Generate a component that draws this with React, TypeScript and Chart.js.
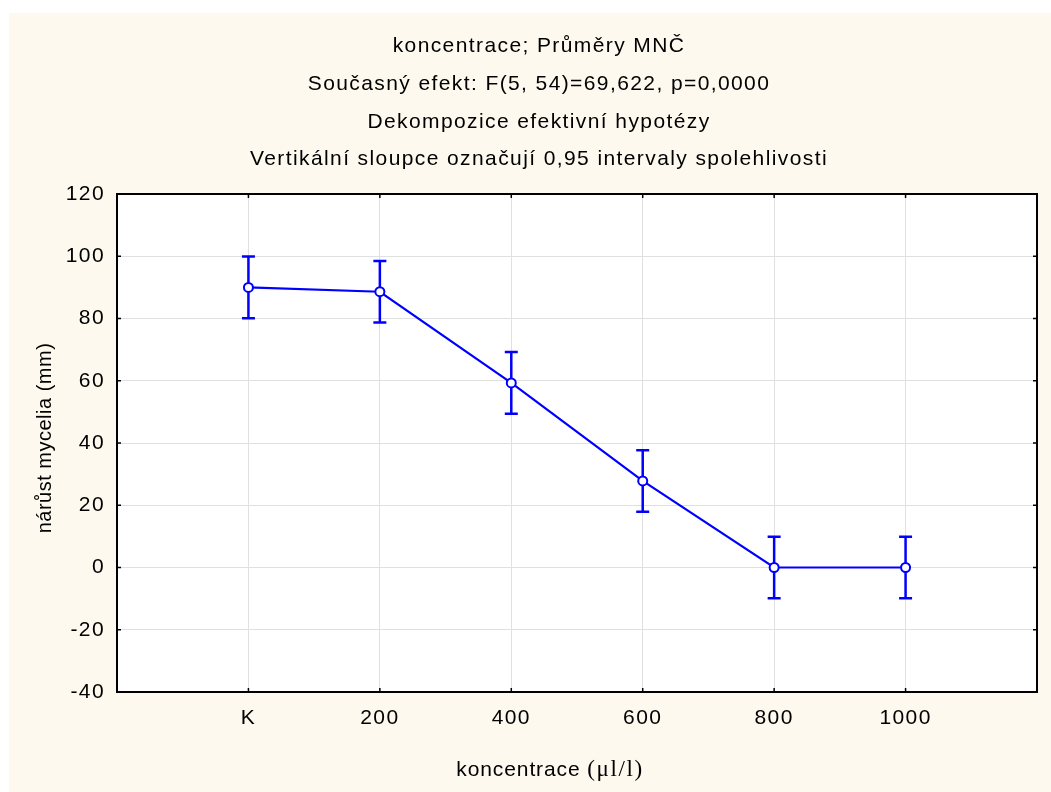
import React, { useEffect, useRef } from 'react';
import { Chart, registerables } from 'chart.js';
Chart.register(...registerables);

const titleLines = [
  'koncentrace; Průměry MNČ',
  'Současný efekt: F(5, 54)=69,622, p=0,0000',
  'Dekompozice efektivní hypotézy',
  'Vertikální sloupce označují 0,95 intervaly spolehlivosti',
];
const categories = ['K', '200', '400', '600', '800', '1000'];
const means = [90.0, 88.6, 59.3, 27.8, 0.0, 0.0];
const ciHalf = [9.9, 9.9, 9.9, 9.9, 9.9, 9.9];
const yMin = -40;
const yMax = 120;
const yStep = 20;
const xTitleSans = 'koncentrace';
const xTitleSerif = '(μl/l)';
const yTitle = 'nárůst mycelia (mm)';

const SANS = 'Arial, "Liberation Sans", sans-serif';
const SERIF = '"Times New Roman", "Liberation Serif", serif';
const CREAM = '#FDF9EF';
const BLUE = '#0000FF';
const LS = '1.4px';
const FS = 21;

const decorPlugin = {
  id: 'decor',
  beforeDraw(chart: any) {
    const { ctx, chartArea: a, width, height } = chart;
    ctx.save();
    ctx.fillStyle = '#ffffff';
    ctx.fillRect(0, 0, width, height);
    ctx.fillStyle = CREAM;
    ctx.fillRect(9, 13, width - 9, height - 13);
    ctx.fillStyle = '#ffffff';
    ctx.fillRect(a.left, a.top, a.right - a.left, a.bottom - a.top);
    ctx.restore();
    (ctx as any).letterSpacing = LS;
  },
  beforeDatasetsDraw(chart: any) {
    const { ctx } = chart;
    const xs = chart.scales.x;
    const ys = chart.scales.y;
    ctx.save();
    ctx.strokeStyle = BLUE;
    ctx.lineWidth = 2.5;
    means.forEach((m, i) => {
      const x = xs.getPixelForValue(i + 1);
      const yt = ys.getPixelForValue(m + ciHalf[i]);
      const yb = ys.getPixelForValue(m - ciHalf[i]);
      ctx.beginPath();
      ctx.moveTo(x, yt);
      ctx.lineTo(x, yb);
      ctx.moveTo(x - 6.5, yt);
      ctx.lineTo(x + 6.5, yt);
      ctx.moveTo(x - 6.5, yb);
      ctx.lineTo(x + 6.5, yb);
      ctx.stroke();
    });
    ctx.restore();
  },
  afterDraw(chart: any) {
    const { ctx, chartArea: a } = chart;
    const xs = chart.scales.x;
    const ys = chart.scales.y;
    ctx.save();
    // inner ticks
    ctx.strokeStyle = '#000';
    ctx.lineWidth = 1.5;
    ctx.beginPath();
    for (let v = yMin; v <= yMax; v += yStep) {
      const y = ys.getPixelForValue(v);
      ctx.moveTo(a.left, y);
      ctx.lineTo(a.left + 4, y);
      ctx.moveTo(a.right, y);
      ctx.lineTo(a.right - 4, y);
    }
    categories.forEach((_, i) => {
      const x = xs.getPixelForValue(i + 1);
      ctx.moveTo(x, a.top);
      ctx.lineTo(x, a.top + 4);
      ctx.moveTo(x, a.bottom);
      ctx.lineTo(x, a.bottom - 4);
    });
    ctx.stroke();
    // frame
    ctx.lineWidth = 2;
    ctx.strokeRect(a.left, a.top, a.right - a.left, a.bottom - a.top);

    // titles
    (ctx as any).letterSpacing = LS;
    ctx.fillStyle = '#000';
    ctx.font = `${FS}px ${SANS}`;
    ctx.textAlign = 'center';
    ctx.textBaseline = 'alphabetic';
    const baselines = [52, 90, 128, 165];
    titleLines.forEach((t, i) => ctx.fillText(t, 539, baselines[i]));

    // x title (mixed fonts)
    ctx.textAlign = 'left';
    ctx.font = `${FS}px ${SANS}`;
    (ctx as any).letterSpacing = '0.9px';
    const w1 = ctx.measureText(xTitleSans + ' ').width;
    ctx.font = `23px ${SERIF}`;
    (ctx as any).letterSpacing = '1.6px';
    const w2 = ctx.measureText(xTitleSerif).width;
    const x0 = 550 - (w1 + w2) / 2;
    ctx.font = `${FS}px ${SANS}`;
    (ctx as any).letterSpacing = '0.9px';
    ctx.fillText(xTitleSans + ' ', x0, 776);
    ctx.font = `23px ${SERIF}`;
    (ctx as any).letterSpacing = '1.6px';
    ctx.fillText(xTitleSerif, x0 + w1, 776);

    // y title
    ctx.font = `20px ${SANS}`;
    (ctx as any).letterSpacing = '0.5px';
    ctx.textAlign = 'center';
    ctx.translate(51, 438);
    ctx.rotate(-Math.PI / 2);
    ctx.fillText(yTitle, 0, 0);
    ctx.restore();
    (ctx as any).letterSpacing = '0px';
  },
};

export default function App() {
  const ref = useRef<HTMLCanvasElement>(null);
  useEffect(() => {
    if (!ref.current) return;
    const labels = ['', ...categories, ''];
    const data = [null, ...means, null];
    const chart = new Chart(ref.current, {
      type: 'line',
      data: {
        labels,
        datasets: [
          {
            data,
            borderColor: BLUE,
            borderWidth: 2.2,
            pointRadius: 4.5,
            pointBorderWidth: 2,
            pointBorderColor: BLUE,
            pointBackgroundColor: '#ffffff',
            pointStyle: 'circle',
            tension: 0,
            spanGaps: false,
          },
        ],
      },
      options: {
        responsive: false,
        animation: false,
        devicePixelRatio: 1,
        layout: { padding: { left: 0, top: 194, right: 10, bottom: 0 } },
        plugins: { legend: { display: false }, title: { display: false }, tooltip: { enabled: false } },
        scales: {
          x: {
            type: 'category',
            offset: false,
            grid: { color: '#e0e0e0', lineWidth: 1, drawTicks: false },
            border: { display: false },
            ticks: {
              autoSkip: false,
              maxRotation: 0,
              padding: 14,
              color: '#000',
              font: { family: SANS, size: FS },
            },
            afterFit: (s: any) => {
              s.height = 100;
            },
          },
          y: {
            min: yMin,
            max: yMax,
            grid: { color: '#e0e0e0', lineWidth: 1, drawTicks: false },
            border: { display: false },
            ticks: {
              stepSize: yStep,
              padding: 12,
              color: '#000',
              font: { family: SANS, size: FS },
            },
            afterFit: (s: any) => {
              s.width = 117;
            },
          },
        },
      },
      plugins: [decorPlugin],
    });
    return () => chart.destroy();
  }, []);
  return (
    <div style={{ position: 'fixed', left: 0, top: 0, width: 1051, height: 792 }}>
      <canvas ref={ref} width={1051} height={792} style={{ display: 'block' }} />
    </div>
  );
}
